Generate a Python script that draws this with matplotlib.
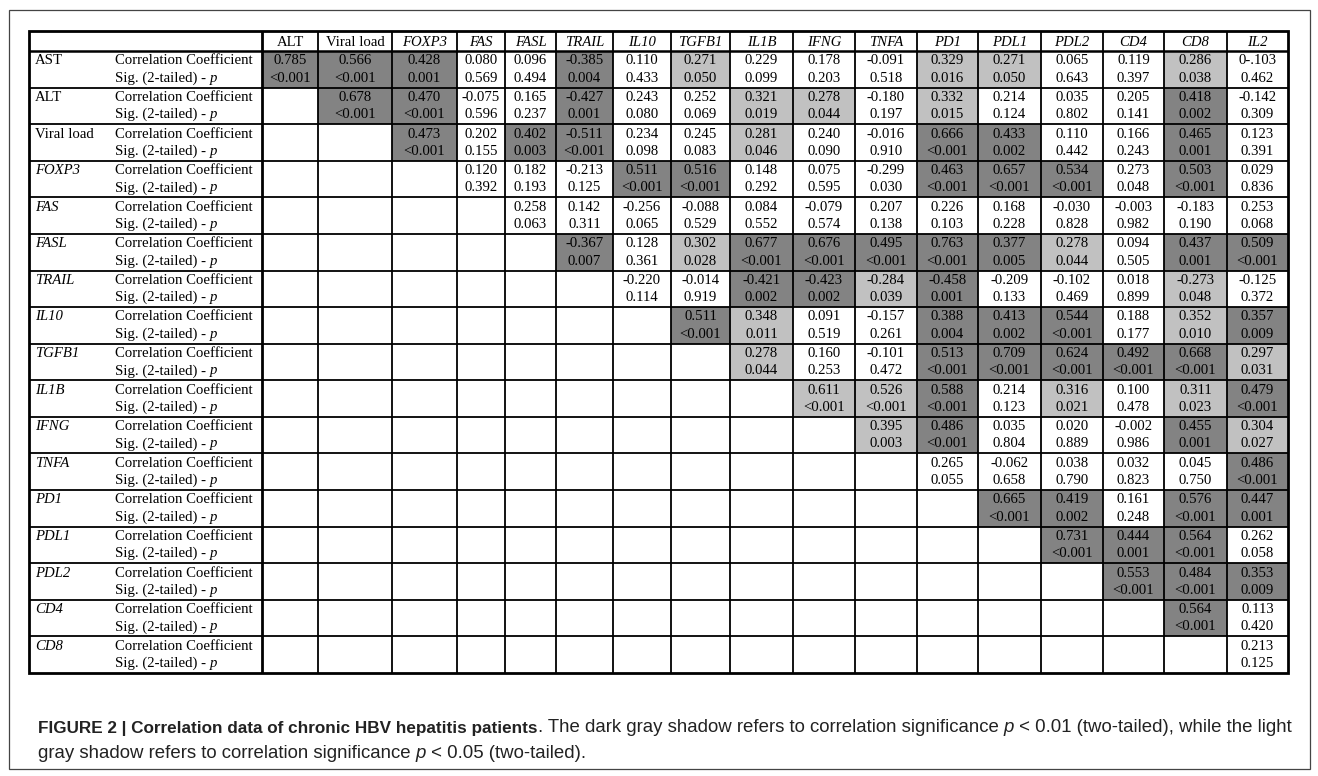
import numpy as np
import matplotlib
matplotlib.use("Agg")
import matplotlib.pyplot as plt
from matplotlib.patches import Rectangle


# variables in the correlation table
COLUMNS = ["ALT", "Viral load", "FOXP3", "FAS", "FASL", "TRAIL", "IL10", "TGFB1",
           "IL1B", "IFNG", "TNFA", "PD1", "PDL1", "PDL2", "CD4", "CD8", "IL2"]
ROWS = ["AST", "ALT", "Viral load", "FOXP3", "FAS", "FASL", "TRAIL", "IL10", "TGFB1",
        "IL1B", "IFNG", "TNFA", "PD1", "PDL1", "PDL2", "CD4", "CD8"]
NOT_GENES = {"AST", "ALT", "Viral load"}   # printed upright, genes in italics

# correlation coefficients, row i starts at column i
R_VALUES = [
    ["0.785", "0.566", "0.428", "0.080", "0.096", "-0.385", "0.110", "0.271", "0.229", "0.178", "-0.091", "0.329", "0.271", "0.065", "0.119", "0.286", "0-.103"],
    ["0.678", "0.470", "-0.075", "0.165", "-0.427", "0.243", "0.252", "0.321", "0.278", "-0.180", "0.332", "0.214", "0.035", "0.205", "0.418", "-0.142"],
    ["0.473", "0.202", "0.402", "-0.511", "0.234", "0.245", "0.281", "0.240", "-0.016", "0.666", "0.433", "0.110", "0.166", "0.465", "0.123"],
    ["0.120", "0.182", "-0.213", "0.511", "0.516", "0.148", "0.075", "-0.299", "0.463", "0.657", "0.534", "0.273", "0.503", "0.029"],
    ["0.258", "0.142", "-0.256", "-0.088", "0.084", "-0.079", "0.207", "0.226", "0.168", "-0.030", "-0.003", "-0.183", "0.253"],
    ["-0.367", "0.128", "0.302", "0.677", "0.676", "0.495", "0.763", "0.377", "0.278", "0.094", "0.437", "0.509"],
    ["-0.220", "-0.014", "-0.421", "-0.423", "-0.284", "-0.458", "-0.209", "-0.102", "0.018", "-0.273", "-0.125"],
    ["0.511", "0.348", "0.091", "-0.157", "0.388", "0.413", "0.544", "0.188", "0.352", "0.357"],
    ["0.278", "0.160", "-0.101", "0.513", "0.709", "0.624", "0.492", "0.668", "0.297"],
    ["0.611", "0.526", "0.588", "0.214", "0.316", "0.100", "0.311", "0.479"],
    ["0.395", "0.486", "0.035", "0.020", "-0.002", "0.455", "0.304"],
    ["0.265", "-0.062", "0.038", "0.032", "0.045", "0.486"],
    ["0.665", "0.419", "0.161", "0.576", "0.447"],
    ["0.731", "0.444", "0.564", "0.262"],
    ["0.553", "0.484", "0.353"],
    ["0.564", "0.113"],
    ["0.213"],
]

# two-tailed significance
P_VALUES = [
    ["<0.001", "<0.001", "0.001", "0.569", "0.494", "0.004", "0.433", "0.050", "0.099", "0.203", "0.518", "0.016", "0.050", "0.643", "0.397", "0.038", "0.462"],
    ["<0.001", "<0.001", "0.596", "0.237", "0.001", "0.080", "0.069", "0.019", "0.044", "0.197", "0.015", "0.124", "0.802", "0.141", "0.002", "0.309"],
    ["<0.001", "0.155", "0.003", "<0.001", "0.098", "0.083", "0.046", "0.090", "0.910", "<0.001", "0.002", "0.442", "0.243", "0.001", "0.391"],
    ["0.392", "0.193", "0.125", "<0.001", "<0.001", "0.292", "0.595", "0.030", "<0.001", "<0.001", "<0.001", "0.048", "<0.001", "0.836"],
    ["0.063", "0.311", "0.065", "0.529", "0.552", "0.574", "0.138", "0.103", "0.228", "0.828", "0.982", "0.190", "0.068"],
    ["0.007", "0.361", "0.028", "<0.001", "<0.001", "<0.001", "<0.001", "0.005", "0.044", "0.505", "0.001", "<0.001"],
    ["0.114", "0.919", "0.002", "0.002", "0.039", "0.001", "0.133", "0.469", "0.899", "0.048", "0.372"],
    ["<0.001", "0.011", "0.519", "0.261", "0.004", "0.002", "<0.001", "0.177", "0.010", "0.009"],
    ["0.044", "0.253", "0.472", "<0.001", "<0.001", "<0.001", "<0.001", "<0.001", "0.031"],
    ["<0.001", "<0.001", "<0.001", "0.123", "0.021", "0.478", "0.023", "<0.001"],
    ["0.003", "<0.001", "0.804", "0.889", "0.986", "0.001", "0.027"],
    ["0.055", "0.658", "0.790", "0.823", "0.750", "<0.001"],
    ["<0.001", "0.002", "0.248", "<0.001", "0.001"],
    ["<0.001", "0.001", "<0.001", "0.058"],
    ["<0.001", "<0.001", "0.009"],
    ["<0.001", "0.420"],
    ["0.125"],
]

# cell shading: 0 none, 1 light gray, 2 dark gray
SHADE = [
    [2, 2, 2, 0, 0, 2, 0, 1, 0, 0, 0, 1, 1, 0, 0, 1, 0],
    [2, 2, 0, 0, 2, 0, 0, 1, 1, 0, 1, 0, 0, 0, 2, 0],
    [2, 0, 2, 2, 0, 0, 1, 0, 0, 2, 2, 0, 0, 2, 0],
    [0, 0, 0, 2, 2, 0, 0, 0, 2, 2, 2, 0, 2, 0],
    [0, 0, 0, 0, 0, 0, 0, 0, 0, 0, 0, 0, 0],
    [2, 0, 1, 2, 2, 2, 2, 2, 1, 0, 2, 2],
    [0, 0, 2, 2, 1, 2, 0, 0, 0, 1, 0],
    [2, 1, 0, 0, 2, 2, 2, 0, 1, 2],
    [1, 0, 0, 2, 2, 2, 2, 2, 1],
    [1, 1, 2, 0, 1, 0, 1, 2],
    [1, 2, 0, 0, 0, 2, 1],
    [0, 0, 0, 0, 0, 2],
    [2, 2, 0, 2, 2],
    [2, 2, 2, 0],
    [2, 2, 2],
    [2, 0],
    [0],
]

SHADE_COLORS = {1: "#c1c1c1", 2: "#838383"}

# page layout in pixels
W, H = 1318, 776
TABLE_LEFT = 29
COL_EDGES = [262, 318, 392, 457, 505, 556, 613, 671, 730, 793, 855, 917, 978,
             1041, 1103, 1164, 1227, 1288]
TABLE_TOP, HEAD_BOTTOM, TABLE_BOTTOM = 31, 51, 673
ROW_H = (TABLE_BOTTOM - HEAD_BOTTOM) / len(ROWS)

SERIF = "Liberation Serif"
SANS = "Liberation Sans"
FS = 10.6

fig = plt.figure(figsize=(W / 100, H / 100), dpi=100)
ax = fig.add_axes([0, 0, 1, 1])
ax.set_xlim(0, W)
ax.set_ylim(H, 0)
ax.axis("off")
renderer = fig.canvas.get_renderer()


def text_width(s, **style):
    # width in pixels, trailing spaces included
    t1 = ax.text(0, 0, s + "x", **style)
    t2 = ax.text(0, 0, "x", **style)
    w = t1.get_window_extent(renderer).width - t2.get_window_extent(renderer).width
    t1.remove()
    t2.remove()
    return w


def draw_runs(x, y, runs, **kw):
    for s, style in runs:
        st = {**kw, **style}
        ax.text(x, y, s, va="center", ha="left", **st)
        x += text_width(s, **st)


# outer page frame
ax.add_patch(Rectangle((8.5, 9.5), 1301, 759, fill=False, ec="#444444", lw=0.9))

# shaded cells and values
for i, row in enumerate(ROWS):
    top = HEAD_BOTTOM + i * ROW_H
    for k, (r, p, s) in enumerate(zip(R_VALUES[i], P_VALUES[i], SHADE[i])):
        j = i + k
        x0, x1 = COL_EDGES[j], COL_EDGES[j + 1]
        if s:
            ax.add_patch(Rectangle((x0, top), x1 - x0, ROW_H, color=SHADE_COLORS[s], lw=0))
        xc = (x0 + x1) / 2
        ax.text(xc, top + 0.27 * ROW_H, r, ha="center", va="center", family=SERIF, fontsize=FS)
        ax.text(xc, top + 0.74 * ROW_H, p, ha="center", va="center", family=SERIF, fontsize=FS)

    style = "normal" if row in NOT_GENES else "italic"
    ax.text(35, top + 0.27 * ROW_H, row, ha="left", va="center", family=SERIF,
            style=style, fontsize=FS)
    ax.text(115, top + 0.27 * ROW_H, "Correlation Coefficient", ha="left", va="center",
            family=SERIF, fontsize=FS)
    draw_runs(115, top + 0.74 * ROW_H,
              [("Sig. (2-tailed) - ", {}), ("p", {"style": "italic"})],
              family=SERIF, fontsize=FS)

# column headers
for j, col in enumerate(COLUMNS):
    xc = (COL_EDGES[j] + COL_EDGES[j + 1]) / 2
    style = "normal" if col in NOT_GENES else "italic"
    ax.text(xc, (TABLE_TOP + HEAD_BOTTOM) / 2 + 1, col, ha="center", va="center",
            family=SERIF, style=style, fontsize=FS)

# grid lines
row_lines = HEAD_BOTTOM + ROW_H * np.arange(1, len(ROWS))
ax.hlines(row_lines, TABLE_LEFT, COL_EDGES[-1], color="black", lw=1.3)
ax.vlines(COL_EDGES[1:-1], TABLE_TOP, TABLE_BOTTOM, color="black", lw=1.3)
ax.hlines(HEAD_BOTTOM, TABLE_LEFT, COL_EDGES[-1], color="black", lw=1.8)
ax.vlines(COL_EDGES[0], TABLE_TOP, TABLE_BOTTOM, color="black", lw=2.0)
ax.add_patch(Rectangle((TABLE_LEFT, TABLE_TOP), COL_EDGES[-1] - TABLE_LEFT,
                       TABLE_BOTTOM - TABLE_TOP, fill=False, ec="black", lw=2.0))

# caption: bold lead-in, regular body with italic p
CAP = dict(family=SANS, fontsize=13.4, color="#222222")
BOLD = {"weight": "bold", "fontsize": 12.3}
ITAL = {"style": "italic"}
draw_runs(38, 728, [
    ("FIGURE 2 | Correlation data of chronic HBV hepatitis patients", BOLD),
    (". The dark gray shadow refers to correlation significance ", {}),
    ("p", ITAL),
    (" < 0.01 (two-tailed), while the light", {}),
], **CAP)
draw_runs(38, 753, [
    ("gray shadow refers to correlation significance ", {}),
    ("p", ITAL),
    (" < 0.05 (two-tailed).", {}),
], **CAP)

fig.savefig("out.png", dpi=100)
